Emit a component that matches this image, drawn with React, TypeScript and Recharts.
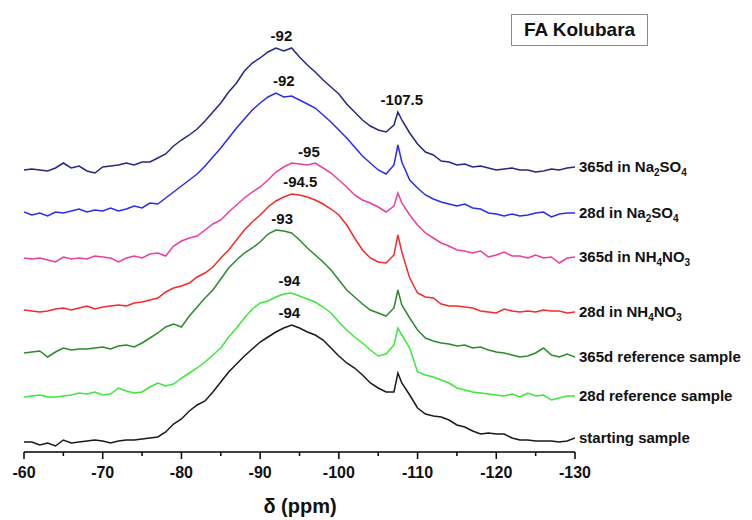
import React from 'react';
import { LineChart, Line, XAxis, YAxis, ReferenceDot } from 'recharts';

// chemical shift (ppm)
const PPM = [
  -60, -61, -62, -63, -64, -65, -66, -67, -68, -69,
  -70, -71, -72, -73, -74, -75, -76, -77, -78, -79,
  -80, -81, -82, -83, -84, -85, -86, -87, -88, -89,
  -90, -91, -92, -93, -94, -95, -96, -97, -98, -99,
  -100, -101, -102, -103, -104, -105, -106, -107,
  -107.5,
  -108, -109, -110, -111, -112, -113, -114, -115, -116, -117,
  -118, -119, -120, -121, -122, -123, -124, -125, -126, -127, -128, -129, -130,
];

// intensities (a.u.) of each spectrum, above its own baseline
const NA2SO4_365D = [
  0, 1, 0, -1, 2, 7, 2, 4, -1, -3,
  3, 4, 5, 7, 5, 8, 8, 12, 16, 24,
  30, 35, 41, 49, 58, 67, 78, 87, 99, 107,
  112, 118, 122, 119, 122, 113, 105, 98, 90, 83,
  76, 66, 58, 50, 44, 40, 38, 45,
  58,
  50, 37, 26, 18, 15, 9, 8, 5, 6, 3,
  4, 2, 0, 1, 2, 0, 0, -2, -1, 1, 0, 2, 3,
];
const NA2SO4_28D = [
  0, -3, -1, -4, 0, -1, 1, 3, 0, 2,
  1, 4, 1, 3, 6, 4, 9, 8, 14, 20,
  26, 32, 38, 46, 55, 64, 74, 84, 93, 102,
  109, 115, 119, 115, 116, 112, 108, 104, 97, 90,
  82, 74, 65, 56, 49, 42, 38, 47,
  67,
  50, 32, 24, 17, 13, 10, 8, 6, 8, 4,
  3, -1, -2, -4, -2, -4, -3, -1, 0, -5, -2, -1, -1,
];
const NH4NO3_365D = [
  0, -1, 0, -2, -4, 1, -1, 0, -1, 2,
  1, 0, -4, 0, 2, 0, 4, 5, 2, 12,
  17, 20, 22, 28, 34, 38, 46, 53, 60, 66,
  71, 78, 86, 91, 95, 94, 93, 95, 90, 85,
  78, 71, 63, 58, 55, 51, 46, 52,
  65,
  55, 43, 33, 25, 20, 15, 12, 8, 7, 5,
  7, 1, 3, 6, 2, 2, 0, 3, 0, 1, -5, 0, 1,
];
const NH4NO3_28D = [
  0, -1, -2, -1, 1, 2, 0, 2, 4, 1,
  3, 4, 5, 4, 7, 8, 10, 12, 18, 22,
  24, 27, 33, 37, 43, 52, 60, 70, 80, 88,
  95, 103, 109, 113, 116, 115, 113, 110, 106, 101,
  95, 85, 72, 60, 52, 48, 47, 55,
  75,
  58, 32, 17, 13, 12, 6, 4, 4, 3, 2,
  -1, -2, -3, 1, -1, -2, -1, -2, 0, -1, -1, -3, -2,
];
const REF_365D = [
  0, 1, 2, -4, 1, 5, 3, 4, 4, 5,
  6, 4, 7, 8, 6, 10, 15, 20, 26, 29,
  26, 37, 46, 55, 63, 74, 85, 93, 100, 105,
  111, 119, 123, 122, 120, 113, 105, 98, 91, 83,
  73, 63, 56, 49, 43, 40, 37, 45,
  63,
  48, 35, 23, 15, 12, 10, 9, 7, 8, 5,
  6, 3, 1, 0, -2, -4, -3, 0, 5, -2, -4, -1, -4,
];
const REF_28D = [
  0, 1, 2, 0, 0, 1, 2, 4, 3, 5,
  2, 3, 9, 6, 4, 5, 10, 14, 11, 13,
  19, 24, 29, 35, 42, 49, 60, 69, 79, 88,
  94, 96, 100, 103, 104, 101, 98, 95, 90, 84,
  75, 67, 60, 54, 47, 41, 43, 52,
  69,
  62, 49, 25, 22, 20, 17, 14, 9, 7, 5,
  4, 3, 2, 1, 3, 0, 4, 1, 2, -3, -1, 1, 1,
];
const STARTING = [
  -2, -2, -5, -3, -6, 0, -3, -2, -1, 0,
  -1, -3, -1, 0, 0, 1, 2, 3, 8, 16,
  21, 29, 35, 39, 48, 58, 68, 76, 84, 91,
  98, 103, 108, 112, 115, 112, 108, 105, 100, 92,
  84, 77, 72, 65, 57, 52, 48, 48,
  67,
  57, 45, 32, 26, 24, 23, 20, 15, 13, 9,
  6, 7, 6, 6, 2, 0, 0, -1, -1, -1, -2, -1, 2,
];

const SERIES = [NA2SO4_365D, NA2SO4_28D, NH4NO3_365D, NH4NO3_28D, REF_365D, REF_28D, STARTING];
const SERIES_NAMES = [
  '365d in Na_2SO_4',
  '28d in Na_2SO_4',
  '365d in NH_4NO_3',
  '28d in NH_4NO_3',
  '365d reference sample',
  '28d reference sample',
  'starting sample',
];
// vertical stacking offsets (a.u.)
const OFFSETS = [282, 240, 194, 142, 99, 55, 12];
const COLORS = ['#26268a', '#2b2bf0', '#f03c9c', '#f52a2a', '#2b8a2b', '#3be83b', '#1a1a1a'];

// peak annotations
const ANNOT_SERIES = [0, 1, 0, 2, 3, 4, 5, 6];
const ANNOT_PEAK = [-92, -92, -107.5, -95, -94.5, -93, -94, -94];
const ANNOT_TEXT = ['-92', '-92', '-107.5', '-95', '-94.5', '-93', '-94', '-94'];
const ANNOT_X = [-92.7, -93.0, -108.0, -96.2, -95.1, -92.8, -93.7, -93.7];

const X_TICKS = [-60, -65, -70, -75, -80, -85, -90, -95, -100, -105, -110, -115, -120, -125, -130];

const FONT = '"Liberation Sans", Arial, Helvetica, sans-serif';

const data = PPM.map((p, i) => {
  const row: Record<string, number> = { ppm: p };
  SERIES.forEach((s, k) => {
    row['s' + k] = OFFSETS[k] + s[i];
  });
  return row;
});

const nearestIndex = (p: number) => {
  let best = 0;
  PPM.forEach((v, i) => {
    if (Math.abs(v - p) < Math.abs(PPM[best] - p)) best = i;
  });
  return best;
};

const renderName = (name: string) => {
  const parts = name.split(/_(\d)/);
  return parts.map((t, i) =>
    i % 2 === 1 ? (
      <tspan key={i} fontSize={10} dy={4}>{t}</tspan>
    ) : (
      <tspan key={i} dy={i === 0 ? 0 : -4}>{t}</tspan>
    )
  );
};

const Tick = (props: any) => {
  const { x, y, payload } = props;
  const major = payload.value % 10 === 0;
  return (
    <g>
      <line x1={x} x2={x} y1={y} y2={y + (major ? 7 : 4)} stroke="#000" strokeWidth={1.5} />
      {major && (
        <text x={x} y={y + 26} textAnchor="middle" fontFamily={FONT} fontWeight="bold" fontSize={16} fill="#111">
          {payload.value}
        </text>
      )}
    </g>
  );
};

export default function App() {
  const last = PPM.length - 1;
  return (
    <div style={{ position: 'relative', width: 744, height: 510 }}>
      <LineChart width={744} height={510} data={data} margin={{ top: 4, right: 177, bottom: 36, left: 16 }}>
        <XAxis
          dataKey="ppm"
          type="number"
          domain={[-130, -60]}
          reversed
          ticks={X_TICKS}
          interval={0}
          tickSize={0}
          tickMargin={0}
          tickLine={false}
          tick={<Tick />}
          height={30}
          axisLine={{ stroke: '#000', strokeWidth: 1.5 }}
          allowDataOverflow
        />
        <YAxis hide type="number" domain={[0, 440]} allowDataOverflow />
        {SERIES.map((_, k) => (
          <Line
            key={k}
            type="linear"
            dataKey={'s' + k}
            stroke={COLORS[k]}
            strokeWidth={1.5}
            dot={false}
            isAnimationActive={false}
          />
        ))}
        {SERIES.map((s, k) => (
          <ReferenceDot
            key={'n' + k}
            x={PPM[last]}
            y={OFFSETS[k] + s[last]}
            r={0}
            shape={(p: any) => (
              <text x={p.cx + 4} y={p.cy + 5} fontFamily={FONT} fontWeight="bold" fontSize={15} fill="#111">
                {renderName(SERIES_NAMES[k])}
              </text>
            )}
          />
        ))}
        {ANNOT_TEXT.map((t, j) => {
          const k = ANNOT_SERIES[j];
          const yv = OFFSETS[k] + SERIES[k][nearestIndex(ANNOT_PEAK[j])] + 12;
          return (
            <ReferenceDot
              key={'a' + j}
              x={ANNOT_X[j]}
              y={yv}
              r={0}
              shape={(p: any) => (
                <text x={p.cx} y={p.cy + 5} textAnchor="middle" fontFamily={FONT} fontWeight="bold" fontSize={15} fill="#111">
                  {t}
                </text>
              )}
            />
          );
        })}
      </LineChart>
      <div
        style={{
          position: 'absolute',
          left: 503,
          top: 6,
          width: 137,
          height: 32,
          boxSizing: 'border-box',
          border: '1.5px solid #8a8a8a',
          display: 'flex',
          alignItems: 'center',
          justifyContent: 'center',
          fontFamily: FONT,
          fontWeight: 'bold',
          fontSize: 19,
          color: '#111',
          background: '#fff',
        }}
      >
        FA Kolubara
      </div>
      <div
        style={{
          position: 'absolute',
          left: 292,
          top: 488,
          transform: 'translateX(-50%)',
          whiteSpace: 'nowrap',
          fontFamily: FONT,
          fontWeight: 'bold',
          fontSize: 20,
          lineHeight: '20px',
          color: '#111',
        }}
      >
        δ (ppm)
      </div>
    </div>
  );
}
